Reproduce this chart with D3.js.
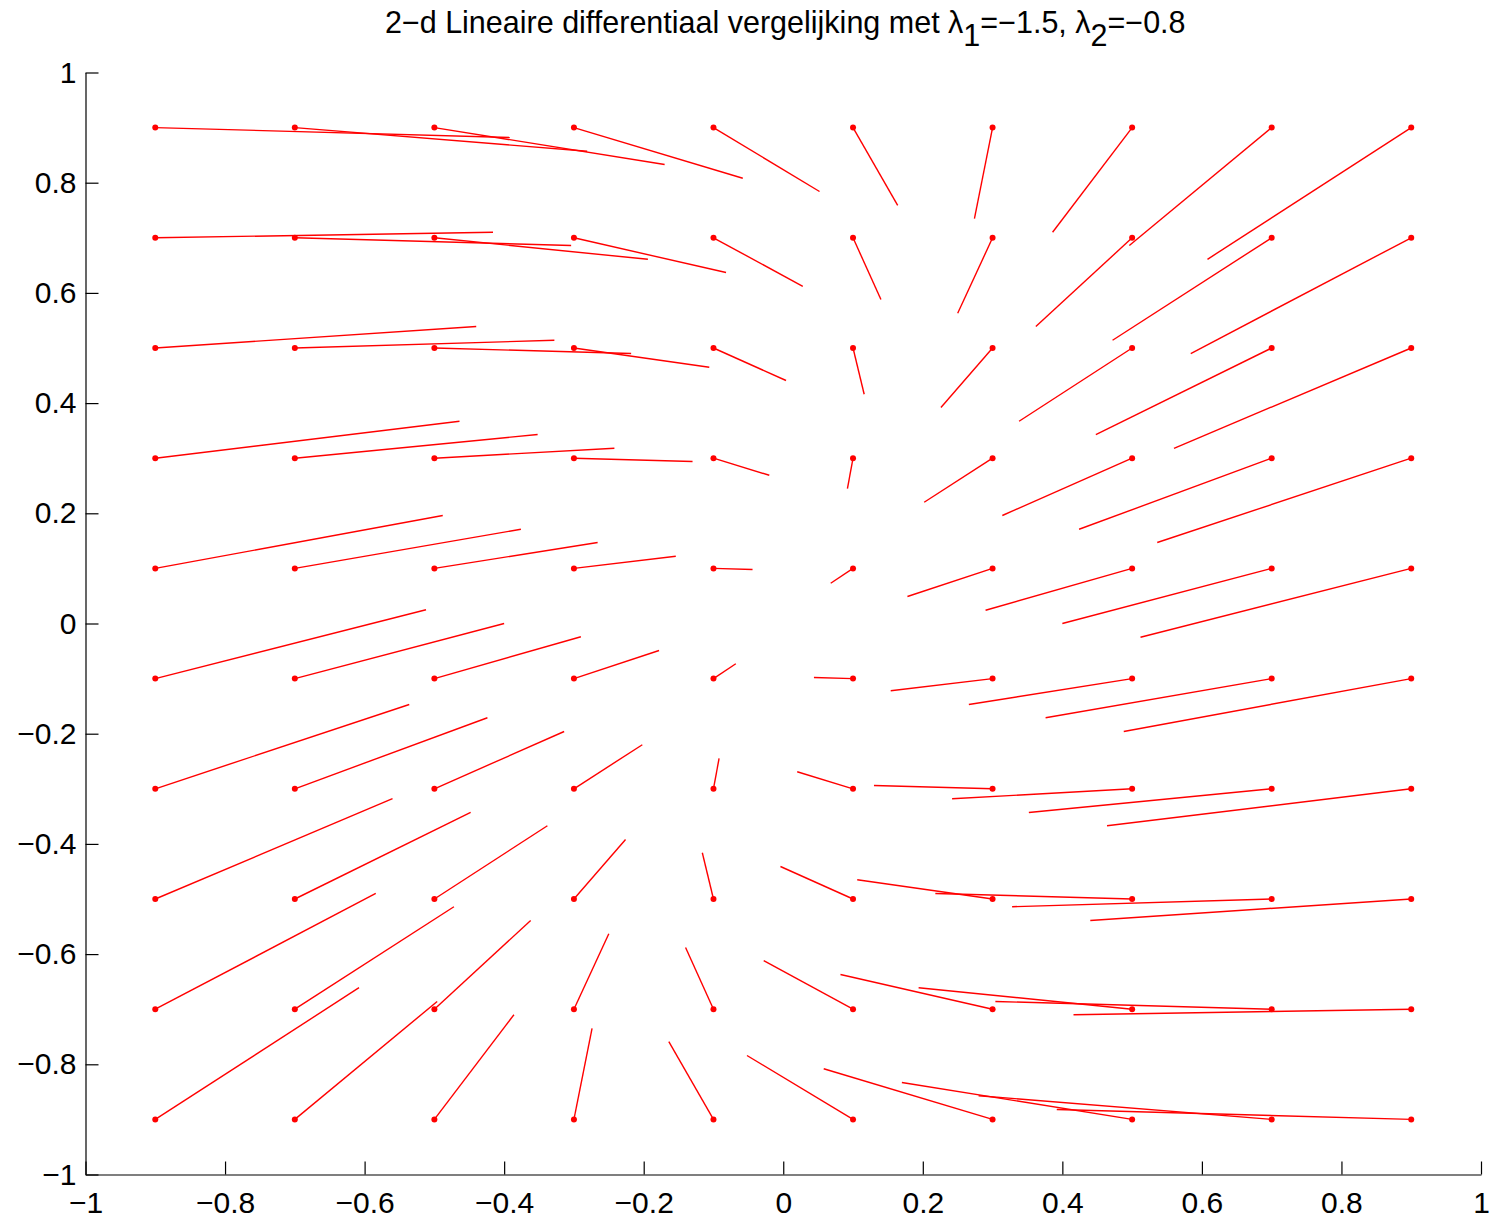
<!DOCTYPE html>
<html>
<head>
<meta charset="utf-8">
<script src="https://cdn.jsdelivr.net/npm/d3@7"></script>
<style>
  html, body { margin: 0; padding: 0; background: #fff; }
  svg { display: block; }
  text { font-family: "Liberation Sans", Arial, Helvetica, sans-serif; }
</style>
</head>
<body>
<svg id="chart" width="1493" height="1219"></svg>
<script>
// Grid of starting points (columns: x, rows: y from top to bottom)
const gridX = [-0.9, -0.7, -0.5, -0.3, -0.1, 0.1, 0.3, 0.5, 0.7, 0.9];
const gridY = [0.9, 0.7, 0.5, 0.3, 0.1, -0.1, -0.3, -0.5, -0.7, -0.9];

// Horizontal displacement of each segment, one row per gridY value
const u = [
  [0.508, 0.419, 0.330, 0.242, 0.152, 0.064, -0.026, -0.114, -0.204, -0.292],
  [0.484, 0.396, 0.306, 0.218, 0.128, 0.040, -0.050, -0.138, -0.228, -0.316],
  [0.460, 0.372, 0.282, 0.194, 0.104, 0.016, -0.074, -0.162, -0.252, -0.340],
  [0.436, 0.348, 0.258, 0.170, 0.080, -0.008, -0.098, -0.186, -0.276, -0.364],
  [0.412, 0.324, 0.234, 0.146, 0.056, -0.032, -0.122, -0.210, -0.300, -0.388],
  [0.388, 0.300, 0.210, 0.122, 0.032, -0.056, -0.146, -0.234, -0.324, -0.412],
  [0.364, 0.276, 0.186, 0.098, 0.008, -0.080, -0.170, -0.258, -0.348, -0.436],
  [0.340, 0.252, 0.162, 0.074, -0.016, -0.104, -0.194, -0.282, -0.372, -0.460],
  [0.316, 0.228, 0.138, 0.050, -0.040, -0.128, -0.218, -0.306, -0.396, -0.484],
  [0.292, 0.204, 0.114, 0.026, -0.064, -0.152, -0.242, -0.330, -0.420, -0.508]
];

// Vertical displacement of each segment, one row per gridY value
const v = [
  [-0.018, -0.043, -0.067, -0.092, -0.116, -0.141, -0.165, -0.190, -0.214, -0.239],
  [0.010, -0.014, -0.039, -0.063, -0.088, -0.112, -0.137, -0.161, -0.186, -0.210],
  [0.039, 0.014, -0.010, -0.035, -0.059, -0.084, -0.108, -0.133, -0.157, -0.182],
  [0.067, 0.043, 0.018, -0.006, -0.031, -0.055, -0.080, -0.104, -0.129, -0.153],
  [0.096, 0.071, 0.047, 0.022, -0.002, -0.027, -0.051, -0.076, -0.100, -0.125],
  [0.125, 0.100, 0.076, 0.051, 0.027, 0.002, -0.022, -0.047, -0.071, -0.096],
  [0.153, 0.129, 0.104, 0.080, 0.055, 0.031, 0.006, -0.018, -0.043, -0.067],
  [0.182, 0.157, 0.133, 0.108, 0.084, 0.059, 0.035, 0.010, -0.014, -0.039],
  [0.210, 0.186, 0.161, 0.137, 0.112, 0.088, 0.063, 0.039, 0.014, -0.010],
  [0.239, 0.214, 0.190, 0.165, 0.141, 0.116, 0.092, 0.067, 0.043, 0.018]
];

const xTicks = [-1, -0.8, -0.6, -0.4, -0.2, 0, 0.2, 0.4, 0.6, 0.8, 1];
const yTicks = [-1, -0.8, -0.6, -0.4, -0.2, 0, 0.2, 0.4, 0.6, 0.8, 1];

const titleParts = [
  { t: "2\u2212d Lineaire differentiaal vergelijking met \u03bb", sub: false },
  { t: "1", sub: true },
  { t: "=\u22121.5, \u03bb", sub: false },
  { t: "2", sub: true },
  { t: "=\u22120.8", sub: false }
];

const svg = d3.select("#chart");
const plotLeft = 85.5, plotRight = 1481, plotTop = 72.5, plotBottom = 1174.5;

const x = d3.scaleLinear().domain([-1, 1]).range([plotLeft, plotRight]);
const y = d3.scaleLinear().domain([-1, 1]).range([plotBottom, plotTop]);

// Flatten the grid into segment records
const segs = [];
gridY.forEach((gy, i) => {
  gridX.forEach((gx, j) => {
    segs.push({ x0: gx, y0: gy, x1: gx + u[i][j], y1: gy + v[i][j] });
  });
});

const fmt = d => d3.format("~g")(d);

// Axes with inward ticks
const xAxis = d3.axisBottom(x).tickValues(xTicks).tickFormat(fmt)
  .tickSizeInner(-13).tickSizeOuter(0).tickPadding(14);
const yAxis = d3.axisLeft(y).tickValues(yTicks).tickFormat(fmt)
  .tickSizeInner(-13).tickSizeOuter(0).tickPadding(9);

const gxAxis = svg.append("g").attr("transform", `translate(0,${plotBottom})`).call(xAxis);
const gyAxis = svg.append("g").attr("transform", `translate(${plotLeft},0)`).call(yAxis);

[gxAxis, gyAxis].forEach(g => {
  g.select(".domain").attr("stroke", "#000").attr("stroke-width", 1.2);
  g.selectAll(".tick line").attr("stroke", "#000").attr("stroke-width", 1.2);
  g.selectAll(".tick text").attr("fill", "#000").style("font-size", "30px")
    .style("font-family", "'Liberation Sans', Arial, Helvetica, sans-serif");
});
gxAxis.selectAll(".tick text").attr("dy", "0.71em").attr("y", 17);

// Segments
svg.append("g").selectAll("line").data(segs).join("line")
  .attr("x1", d => x(d.x0)).attr("y1", d => y(d.y0))
  .attr("x2", d => x(d.x1)).attr("y2", d => y(d.y1))
  .attr("stroke", "#ff0000").attr("stroke-width", 1.4);

// Start points
svg.append("g").selectAll("circle").data(segs).join("circle")
  .attr("cx", d => x(d.x0)).attr("cy", d => y(d.y0))
  .attr("r", 3).attr("fill", "#ff0000");

// Title with subscripts
const title = svg.append("text")
  .attr("x", (plotLeft + plotRight) / 2 + 2).attr("y", 33)
  .attr("text-anchor", "middle")
  .style("font-size", "30.5px").attr("fill", "#000");
let shifted = false;
titleParts.forEach(p => {
  const ts = title.append("tspan").text(p.t);
  if (p.sub && !shifted) { ts.attr("dy", 13); shifted = true; }
  else if (!p.sub && shifted) { ts.attr("dy", -13); shifted = false; }
});
</script>
</body>
</html>
